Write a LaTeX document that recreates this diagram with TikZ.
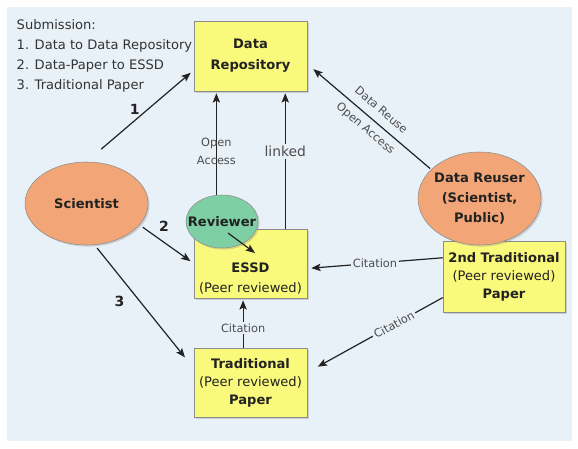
\documentclass[tikz,border=0pt]{standalone}
\usepackage{fontspec}
\setmainfont{DejaVu Sans}
\usetikzlibrary{arrows.meta,shapes.geometric,shadows}
\definecolor{bgblue}{HTML}{E9F1F8}
\definecolor{paperyellow}{HTML}{F9F97C}
\definecolor{peach}{HTML}{F2A678}
\definecolor{mintgreen}{HTML}{7ECFA3}
\definecolor{linegray}{HTML}{8C8C8C}
\definecolor{inkgray}{HTML}{222222}
\tikzset{
  lift/.style={drop shadow={shadow xshift=1.2pt, shadow yshift=-1.2pt, opacity=0.3}},
  box/.style={lift, draw=linegray, fill=paperyellow, align=center, inner sep=0pt,
    minimum width=84.75pt, minimum height=51.75pt, text=inkgray},
  blob/.style={lift, ellipse, draw=linegray, fill=peach, align=center, inner sep=0pt,
    font=\fontsize{9.8}{15}\selectfont\bfseries, text=inkgray},
  arr/.style={draw=inkgray, line width=0.9pt, -{Stealth[length=7pt,width=5.5pt,inset=1.5pt]}},
  lbl/.style={font=\fontsize{8.5}{14}\selectfont, text=black!70, inner sep=1.5pt},
  gaplbl/.style={lbl, fill=bgblue},
  num/.style={font=\fontsize{10.5}{12}\selectfont\bfseries, text=inkgray}
}
\begin{document}
\begin{tikzpicture}[x=0.75pt, y=-0.75pt, font=\fontsize{9.8}{15}\selectfont]
  \useasboundingbox (0,0) rectangle (578,449);
  \fill[bgblue] (7,7) rectangle (572,441);

  \node[anchor=west, align=left, text=black!80] (sub) at (12,56) {Submission:\\1. Data to Data Repository\\2. Data-Paper to ESSD\\3. Traditional Paper};

  \node[box, minimum height=52.5pt, font=\fontsize{9.8}{15.75}\selectfont\bfseries] (repo) at (250.5,56) {Data\\Repository};
  \node[box] (essd) at (250.5,263.5) {\mbox{}\\[15pt]\textbf{ESSD}\\(Peer reviewed)};
  \node[box, font=\fontsize{9.8}{13.5}\selectfont] (trad) at (250.5,382.5) {\textbf{Traditional}\\(Peer reviewed)\\\textbf{Paper}};
  \node[box, minimum width=91.5pt, minimum height=53.25pt, font=\fontsize{9.8}{13.5}\selectfont] (second) at (504,276.5) {\textbf{2nd Traditional}\\(Peer reviewed)\\\textbf{Paper}};

  \node[blob, minimum width=92.25pt, minimum height=62.25pt] (sci) at (86.5,203.5) {Scientist};
  \node[blob, minimum width=92.25pt, minimum height=69.75pt, inner xsep=-3pt] (reuser) at (479.5,198.5) {Data Reuser\\(Scientist,\\Public)};
  \node[blob, fill=mintgreen, minimum width=54pt, minimum height=39.75pt] (rev) at (222,221.5) {\makebox[0pt]{Reviewer}};

  \draw[arr, shorten <=14.5pt, shorten >=3pt] (sci.north) -- (repo.194) node[num, pos=0.45, above=1pt] {1};
  \draw[arr, shorten <=3pt, shorten >=3pt] (sci.338) -- (essd.west) node[num, pos=0.45, above=4pt] {2};
  \draw[arr, shorten <=3pt, shorten >=10.5pt] (sci.281) -- (trad.166) node[num, pos=0.46, left=8pt] {3};

  \draw[arr, shorten <=1pt, shorten >=6pt] (reuser.149) -- (repo.-8)
    node[lbl, pos=0.47, sloped, align=center, font=\fontsize{8.5}{18}\selectfont] {Data Reuse\\Open Access};
  \draw[arr, shorten >=3pt] (second.163) -- (essd.-5) node[gaplbl, midway] {Citation};
  \draw[arr, shorten >=9pt] (second.199) -- (trad.10) node[gaplbl, pos=0.36, sloped] {Citation};
  \draw[arr, shorten >=1.5pt] (trad.102) -- (essd.258) node[gaplbl, pos=0.4] {Citation};

  \draw[arr, shorten >=1.5pt] (rev.102) -- (rev.102 |- repo.south) node[lbl, pos=0.42, align=center] {Open\\Access};
  \draw[arr, shorten >=1.5pt] (essd.45) -- (essd.45 |- repo.south) node[gaplbl, pos=0.56, font=\fontsize{10.4}{12}\selectfont] {linked};
  \draw[arr] ([shift={(6,11.5)}]rev.center) -- ([shift={(4.5,-10.5)}]essd.center);
\end{tikzpicture}
\end{document}
